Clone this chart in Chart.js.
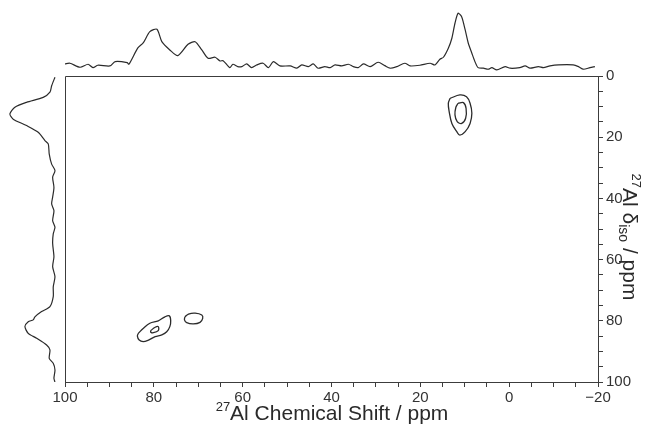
<!DOCTYPE html>
<html><head><meta charset="utf-8">
<script src="https://cdn.jsdelivr.net/npm/chart.js@4.4.0/dist/chart.umd.min.js"></script>
<style>
html,body{margin:0;padding:0;background:#fff;}
#wrap{position:relative;width:654px;height:431px;overflow:hidden;background:#fff;}
canvas{position:absolute;}
</style></head><body>
<div id="wrap">
<canvas id="main" width="654" height="431" style="left:0;top:0;width:654px;height:431px"></canvas>
<canvas id="top" width="533" height="76" style="left:65px;top:0;width:533px;height:76px"></canvas>
<canvas id="left" width="65" height="306" style="left:0;top:76px;width:65px;height:306px"></canvas>
</div>
<script>
// ---- data (ppm) ----
const xMajorTicks = [100, 80, 60, 40, 20, 0, -20];
const yMajorTicks = [0, 20, 40, 60, 80, 100];

// F2 (MAS) projection on top
const topPpm = [100, 98.9, 96.6, 94.8, 93.7, 92.6, 89.9, 88.7, 86.0, 85.6, 83.6, 82.4, 80.9, 79.3, 78.2, 76.4, 74.6, 72.3, 70.7, 69.2, 67.8, 66.2, 65.1, 64.4, 62.9, 62.2, 61.1, 60.2, 59.1, 58.0, 56.8, 55.4, 54.2, 53.1, 51.6, 49.3, 47.8, 46.7, 45.2, 44.1, 43.0, 41.5, 40.3, 39.2, 37.7, 36.2, 35.1, 34.0, 32.8, 31.3, 29.5, 28.0, 26.8, 25.3, 23.5, 22.3, 20.1, 17.8, 16.7, 15.6, 14.8, 13.7, 12.9, 12.2, 11.5, 10.7, 9.9, 9.2, 8.4, 7.7, 7.0, 5.8, 4.7, 3.9, 2.8, 0.9, -0.2, -2.4, -3.6, -4.7, -6.6, -7.7, -9.2, -11.1, -14.4, -15.6, -16.7, -18.2, -19.3];
const topInt = [3.8, 5.1, -2.5, 3.2, -3.2, 1.3, 0, 8.1, 6.2, 3.2, 34, 43.4, 64.7, 69.2, 45.8, 30.2, 19.4, 40.9, 45.8, 30.2, 14.5, 16.4, 9.4, 10, -3.2, 3.2, -1.3, -1.3, 3.8, -3.2, 1.9, 5.1, -3.2, 8.1, 0, 0, -4.3, 1.9, -1.3, 3.8, -4.3, -1.3, -3.2, 1.9, 0, 3.2, -1.3, -3.2, 3.8, -1.3, 7, 0.6, -4.3, -1.3, 5.1, 0, 1.3, 5.1, 1.9, 12.6, 16.4, 33.4, 52.3, 80.6, 99.4, 93, 67.9, 42.8, 24, 8.1, -3.2, -4.3, -6.2, -3.2, -7.5, -1.3, -4.3, -3.2, 0, -4.3, -1.3, -3.2, 0, 1.9, 1.9, -1.3, -6.2, -3.2, -1.3];

// F1 (isotropic) projection on the left
const leftPpm = [0.4, 3.2, 5.3, 7.0, 8.6, 10.2, 12.4, 14.1, 16.2, 18.4, 21.1, 22.2, 25.5, 28.8, 30.9, 33.1, 36.4, 39.6, 41.8, 44.0, 47.3, 49.4, 51.6, 54.7, 59.1, 62.3, 65.6, 68.9, 72.1, 75.4, 77.0, 78.7, 79.7, 80.3, 81.9, 84.1, 85.7, 87.9, 89.5, 92.3, 93.9, 96.1, 98.8, 100];
const leftInt = [-4.7, 3.0, 7.0, 22.6, 61.2, 88.4, 100, 92.3, 61.2, 34.2, 18.6, 10.9, 8.6, 3.0, -4.7, 0.7, -2.3, 0.7, 3.0, -2.3, 0.7, -4.7, -0.7, 0.7, -2.3, 0.7, -4.7, -0.7, -0.7, 7.0, 26.3, 41.9, 45.8, 57.4, 65.1, 57.4, 37.9, 14.7, 7.0, 8.6, -0.7, -4.7, -2.3, -4.7];

// contour lines (F2 ppm, F1 ppm)
const c6OuterX = [13.3, 11.1, 9.6, 8.8, 8.4, 8.8, 9.9, 11.1, 11.8, 12.9, 13.5, 13.7];
const c6OuterY = [7.3, 6.2, 6.8, 8.9, 12.2, 15.5, 18.2, 19.3, 18.2, 15.5, 11.7, 8.9];
const c6InnerX = [11.5, 10.3, 9.7, 9.8, 10.7, 11.7, 12.2, 12.0];
const c6InnerY = [8.9, 8.7, 10.6, 13.8, 15.5, 14.9, 12.7, 10.2];
const c80OuterX = [83.5, 82.4, 80.9, 79.0, 77.5, 76.5, 76.2, 76.4, 77.1, 78.2, 79.7, 81.2, 82.4, 83.3, 83.7];
const c80OuterY = [84.1, 82.5, 80.8, 80.0, 78.7, 78.4, 80.0, 81.9, 83.6, 84.6, 85.2, 86.3, 86.8, 86.3, 85.0];
const c80InnerX = [80.7, 79.7, 79.0, 79.0, 80.1, 80.7];
const c80InnerY = [83.2, 82.1, 81.9, 83.2, 83.9, 83.7];
const c70X = [73.0, 72.2, 70.7, 69.2, 69.0, 69.6, 71.1, 72.6, 73.1];
const c70Y = [78.7, 77.8, 77.5, 78.1, 79.2, 80.5, 81.0, 80.6, 79.7];

// ---- rendering ----
const FONT = "'Liberation Sans', Arial, Helvetica, sans-serif";
const AX = '#3c3c3c';
const LINE = '#2b2b2b';
const fmt = v => v < 0 ? '\u2212' + Math.abs(v) : String(v);

function loop(xs, ys) {
  const pts = xs.map((v, i) => ({x: v, y: ys[i]}));
  pts.push({x: xs[0], y: ys[0]});
  return pts;
}
const contourSets = [
  loop(c6OuterX, c6OuterY), loop(c6InnerX, c6InnerY),
  loop(c80OuterX, c80OuterY), loop(c80InnerX, c80InnerY),
  loop(c70X, c70Y)
];

function drawRich(ctx, parts) {
  let w = 0;
  parts.forEach(p => { ctx.font = p.size + 'px ' + FONT; p.w = ctx.measureText(p.t).width; w += p.w; });
  let x = -w / 2;
  parts.forEach(p => { ctx.font = p.size + 'px ' + FONT; ctx.fillText(p.t, x, p.dy); x += p.w; });
}

const framePlugin = {
  id: 'frame',
  afterDraw(chart) {
    const {ctx, chartArea: a} = chart;
    ctx.save();
    ctx.strokeStyle = AX; ctx.lineWidth = 1;
    ctx.beginPath();
    ctx.moveTo(Math.round(a.left) + 0.5, Math.round(a.bottom) + 0.5);
    ctx.lineTo(Math.round(a.left) + 0.5, Math.round(a.top) + 0.5);
    ctx.lineTo(Math.round(a.right) + 0.5, Math.round(a.top) + 0.5);
    ctx.stroke();
    ctx.fillStyle = '#2a2a2a';
    ctx.textBaseline = 'alphabetic';
    ctx.textAlign = 'left';
    // bottom title
    ctx.save();
    ctx.translate(332, 420);
    drawRich(ctx, [
      {t: '27', size: 13, dy: -9},
      {t: 'Al Chemical Shift / ppm', size: 21, dy: 0}
    ]);
    ctx.restore();
    // right title
    ctx.save();
    ctx.translate(631, 237);
    ctx.rotate(Math.PI / 2);
    drawRich(ctx, [
      {t: '27', size: 13, dy: -1},
      {t: 'Al \u03b4', size: 21, dy: 8},
      {t: 'iso', size: 14, dy: 12},
      {t: ' / ppm', size: 21, dy: 8}
    ]);
    ctx.restore();
    ctx.restore();
  }
};

new Chart(document.getElementById('main'), {
  type: 'scatter',
  data: {
    datasets: contourSets.map(d => ({
      data: d, showLine: true, borderColor: LINE, borderWidth: 1.3,
      pointRadius: 0, tension: 0.35, fill: false
    }))
  },
  options: {
    responsive: false, animation: false, devicePixelRatio: 1,
    layout: {padding: {left: 65, top: 76, right: 0, bottom: 0}},
    plugins: {legend: {display: false}, tooltip: {enabled: false}},
    scales: {
      x: {
        type: 'linear', min: -20, max: 100, reverse: true, position: 'bottom',
        afterFit(s) { s.height = 49; },
        ticks: {stepSize: 5, autoSkip: false, maxRotation: 0, padding: 2, color: '#333',
          font: {family: FONT, size: 15},
          callback: v => xMajorTicks.includes(v) ? fmt(v) : ''},
        grid: {drawOnChartArea: false, drawTicks: true, tickLength: 5, color: AX, lineWidth: 1},
        border: {display: true, color: AX, width: 1}
      },
      y: {
        type: 'linear', min: 0, max: 100, reverse: true, position: 'right',
        afterFit(s) { s.width = 56; },
        ticks: {stepSize: 5, autoSkip: false, padding: 3, color: '#333',
          font: {family: FONT, size: 15},
          callback: v => yMajorTicks.includes(v) ? fmt(v) : ''},
        grid: {drawOnChartArea: false, drawTicks: true, tickLength: 5, color: AX, lineWidth: 1},
        border: {display: true, color: AX, width: 1}
      }
    }
  },
  plugins: [framePlugin]
});

new Chart(document.getElementById('top'), {
  type: 'scatter',
  data: {datasets: [{
    data: topPpm.map((v, i) => ({x: v, y: topInt[i]})),
    showLine: true, borderColor: LINE, borderWidth: 1.2, pointRadius: 0, tension: 0.25, clip: false
  }]},
  options: {
    responsive: false, animation: false, devicePixelRatio: 1,
    layout: {padding: 0},
    plugins: {legend: {display: false}, tooltip: {enabled: false}},
    scales: {
      x: {type: 'linear', min: -20, max: 100, reverse: true, display: false},
      y: {type: 'linear', min: -19, max: 124.5, display: false}
    }
  }
});

new Chart(document.getElementById('left'), {
  type: 'scatter',
  data: {datasets: [{
    data: leftPpm.map((v, i) => ({x: leftInt[i], y: v})),
    showLine: true, borderColor: LINE, borderWidth: 1.2, pointRadius: 0, tension: 0.25, clip: false
  }]},
  options: {
    responsive: false, animation: false, devicePixelRatio: 1,
    layout: {padding: 0},
    plugins: {legend: {display: false}, tooltip: {enabled: false}},
    scales: {
      x: {type: 'linear', min: -28, max: 123, reverse: true, display: false},
      y: {type: 'linear', min: 0, max: 100, reverse: true, display: false}
    }
  }
});
</script>
</body></html>
